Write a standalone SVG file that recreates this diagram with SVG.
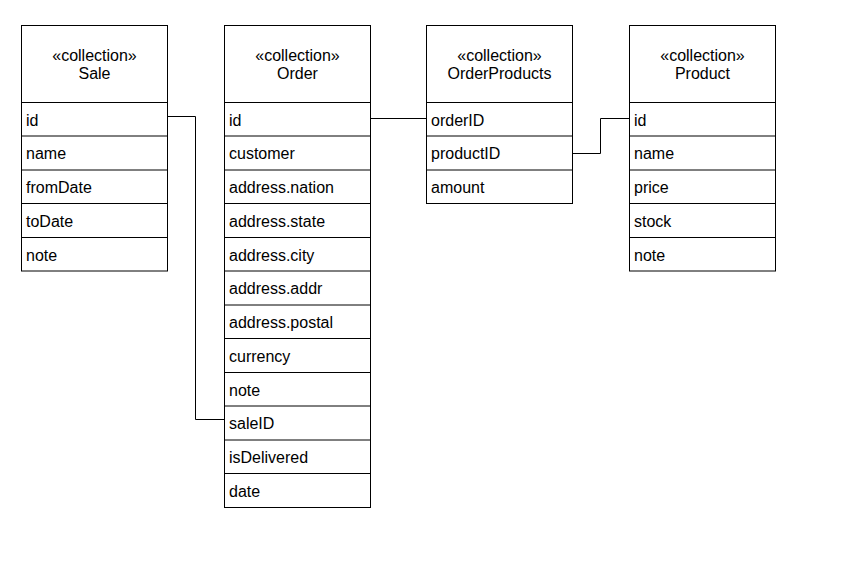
<svg xmlns="http://www.w3.org/2000/svg" width="848" height="580" viewBox="0 0 848 580">
<style>
.box{fill:#fff;stroke:#000;stroke-width:1}
.sep{stroke:#000;stroke-width:1;fill:none}
.t{font-family:"Liberation Sans",Arial,Helvetica,sans-serif;font-size:16px;fill:#000}
.h{text-anchor:middle}
.edge{fill:none;stroke:#000;stroke-width:1}
</style>
<rect width="848" height="580" fill="#fff"/>
<g id="node-sale">
<rect class="box" x="21.5" y="25.5" width="146" height="245.5"/>
<path class="sep" d="M21.5 102.5H167.5M21.5 136H167.5M21.5 170H167.5M21.5 203.5H167.5M21.5 237.5H167.5"/>
<text class="t h" x="94.5" y="61">«collection»</text>
<text class="t h" x="94.5" y="78.5">Sale</text>
<text class="t" x="26" y="125.5">id</text>
<text class="t" x="26" y="159">name</text>
<text class="t" x="26" y="193">fromDate</text>
<text class="t" x="26" y="226.5">toDate</text>
<text class="t" x="26" y="260.5">note</text>
</g>
<g id="node-order">
<rect class="box" x="224.5" y="25.5" width="146" height="482"/>
<path class="sep" d="M224.5 102.5H370.5M224.5 136H370.5M224.5 170H370.5M224.5 203.5H370.5M224.5 237.5H370.5M224.5 271H370.5M224.5 305H370.5M224.5 338.5H370.5M224.5 372.5H370.5M224.5 406H370.5M224.5 440H370.5M224.5 473.5H370.5"/>
<text class="t h" x="297.5" y="61">«collection»</text>
<text class="t h" x="297.5" y="78.5">Order</text>
<text class="t" x="229" y="125.5">id</text>
<text class="t" x="229" y="159">customer</text>
<text class="t" x="229" y="193">address.nation</text>
<text class="t" x="229" y="226.5">address.state</text>
<text class="t" x="229" y="260.5">address.city</text>
<text class="t" x="229" y="294">address.addr</text>
<text class="t" x="229" y="328">address.postal</text>
<text class="t" x="229" y="361.5">currency</text>
<text class="t" x="229" y="395.5">note</text>
<text class="t" x="229" y="429">saleID</text>
<text class="t" x="229" y="463">isDelivered</text>
<text class="t" x="229" y="496.5">date</text>
</g>
<g id="node-orderproducts">
<rect class="box" x="426.5" y="25.5" width="146" height="178"/>
<path class="sep" d="M426.5 102.5H572.5M426.5 136H572.5M426.5 170H572.5"/>
<text class="t h" x="499.5" y="61">«collection»</text>
<text class="t h" x="499.5" y="78.5">OrderProducts</text>
<text class="t" x="431" y="125.5">orderID</text>
<text class="t" x="431" y="159">productID</text>
<text class="t" x="431" y="193">amount</text>
</g>
<g id="node-product">
<rect class="box" x="629.5" y="25.5" width="146" height="245.5"/>
<path class="sep" d="M629.5 102.5H775.5M629.5 136H775.5M629.5 170H775.5M629.5 203.5H775.5M629.5 237.5H775.5"/>
<text class="t h" x="702.5" y="61">«collection»</text>
<text class="t h" x="702.5" y="78.5">Product</text>
<text class="t" x="634" y="125.5">id</text>
<text class="t" x="634" y="159">name</text>
<text class="t" x="634" y="193">price</text>
<text class="t" x="634" y="226.5">stock</text>
<text class="t" x="634" y="260.5">note</text>
</g>
<g id="connectors">
<path class="edge" d="M167.5 116.5H195.5V419.5H224.5"/>
<path class="edge" d="M370.5 118.5H426.5"/>
<path class="edge" d="M572.5 153.5H600.5V118.5H629.5"/>
</g>
</svg>
